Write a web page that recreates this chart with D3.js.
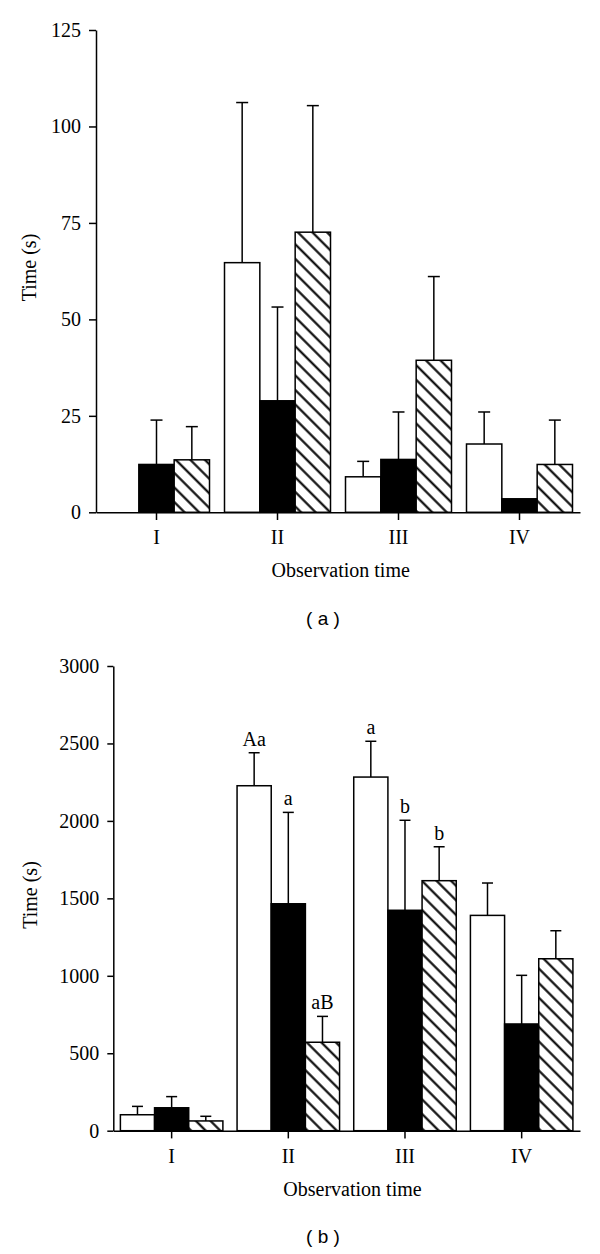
<!DOCTYPE html>
<html><head><meta charset="utf-8">
<script src="https://cdn.jsdelivr.net/npm/d3@7"></script>
<style>body{margin:0;background:#fff}</style>
</head><body><svg id="c" width="600" height="1254" xmlns="http://www.w3.org/2000/svg"></svg>
<script>
// ---------- data ----------
const categories = ["I", "II", "III", "IV"];
const seriesKeys = ["open", "filled", "hatched"];

// panel (a): means and SD (upper error)
const panelA_open = [0, 64.7, 9.2, 17.7];
const panelA_filled = [12.4, 28.9, 13.7, 3.5];
const panelA_hatched = [13.6, 72.6, 39.4, 12.4];
const panelA_openSD = [0, 41.5, 4.0, 8.3];
const panelA_filledSD = [11.5, 24.3, 12.3, 0];
const panelA_hatchedSD = [8.6, 32.8, 21.7, 11.5];
const panelA_ticks = [0, 25, 50, 75, 100, 125];

// panel (b)
const panelB_open = [103, 2227, 2283, 1390];
const panelB_filled = [148, 1465, 1423, 689];
const panelB_hatched = [63, 571, 1614, 1110];
const panelB_openSD = [54, 213, 231, 209];
const panelB_filledSD = [72, 590, 581, 314];
const panelB_hatchedSD = [30, 167, 219, 181];
const panelB_openLetters = ["", "Aa", "a", ""];
const panelB_filledLetters = ["", "a", "b", ""];
const panelB_hatchedLetters = ["", "aB", "b", ""];
const panelB_ticks = [0, 500, 1000, 1500, 2000, 2500, 3000];

const xTitle = "Observation time";
const yTitle = "Time (s)";

// ---------- drawing ----------
const svg = d3.select("#c");
const SERIF = "'Liberation Serif','Times New Roman',serif";
const FS = 20;
const defs = svg.append("defs");
const pat = defs.append("pattern").attr("id", "hatch")
  .attr("patternUnits", "userSpaceOnUse")
  .attr("width", 10.3).attr("height", 10.3)
  .attr("patternTransform", "rotate(45)");
pat.append("rect").attr("width", 10.3).attr("height", 10.3).attr("fill", "#fff");
pat.append("line").attr("x1", -1).attr("x2", 11.3).attr("y1", 5.15).attr("y2", 5.15)
  .attr("stroke", "#000").attr("stroke-width", 2.1);

const fills = {open: "#fff", filled: "#000", hatched: "url(#hatch)"};

function drawPanel(cfg) {
  const g = svg.append("g");
  const x0 = d3.scaleBand().domain(categories).range([cfg.left, cfg.right]).padding(0);
  const gap = (x0.bandwidth() - cfg.groupW) / 2;
  const x1 = d3.scaleBand().domain(seriesKeys).range([gap, x0.bandwidth() - gap]).padding(0);
  const y = d3.scaleLinear().domain([0, cfg.max]).range([cfg.bottom, cfg.top]);

  const rows = [];
  categories.forEach((c, i) => {
    seriesKeys.forEach(k => {
      rows.push({cat: c, key: k, v: cfg.means[k][i], sd: cfg.sds[k][i],
                 lab: cfg.letters ? cfg.letters[k][i] : ""});
    });
  });

  // error bars
  const eb = g.append("g").attr("stroke", "#000").attr("stroke-width", 1.5);
  rows.filter(d => d.sd > 0).forEach(d => {
    const cx = x0(d.cat) + x1(d.key) + x1.bandwidth() / 2;
    eb.append("line").attr("x1", cx).attr("x2", cx).attr("y1", y(d.v)).attr("y2", y(d.v + d.sd));
    eb.append("line").attr("x1", cx - cfg.cap / 2).attr("x2", cx + cfg.cap / 2)
      .attr("y1", y(d.v + d.sd)).attr("y2", y(d.v + d.sd));
  });

  // bars
  g.append("g").selectAll("rect").data(rows.filter(d => d.v > 0)).join("rect")
    .attr("x", d => x0(d.cat) + x1(d.key))
    .attr("width", x1.bandwidth())
    .attr("y", d => y(d.v))
    .attr("height", d => y(0) - y(d.v))
    .attr("fill", d => fills[d.key])
    .attr("stroke", "#000").attr("stroke-width", 1.5);

  // letters
  g.append("g").selectAll("text").data(rows.filter(d => d.lab)).join("text")
    .attr("x", d => x0(d.cat) + x1(d.key) + x1.bandwidth() / 2)
    .attr("y", d => y(d.v + d.sd) - 7)
    .attr("text-anchor", "middle")
    .attr("font-family", SERIF).attr("font-size", FS)
    .text(d => d.lab);

  // axes
  const ya = g.append("g").attr("transform", `translate(${cfg.left},0)`)
    .call(d3.axisLeft(y).tickValues(cfg.ticks).tickFormat(d3.format("d"))
      .tickSize(cfg.ytick).tickPadding(8).tickSizeOuter(0));
  const xa = g.append("g").attr("transform", `translate(0,${cfg.bottom})`)
    .call(d3.axisBottom(x0).tickSize(7.7).tickPadding(10).tickSizeOuter(0));
  [ya, xa].forEach(a => {
    a.attr("font-size", FS).attr("font-family", SERIF);
    a.selectAll("path,line").attr("stroke", "#000").attr("stroke-width", 1.5);
    a.selectAll("text").attr("font-family", SERIF).attr("font-size", FS).attr("fill", "#000");
  });

  // titles
  g.append("text").attr("x", cfg.xTitleX).attr("y", cfg.xTitleY).attr("text-anchor", "middle")
    .attr("font-family", SERIF).attr("font-size", FS).text(xTitle);
  g.append("text").attr("transform", `translate(${cfg.yTitleX},${cfg.yTitleY}) rotate(-90)`)
    .attr("text-anchor", "middle").attr("font-family", SERIF).attr("font-size", FS).text(yTitle);
  g.append("text").attr("x", 323).attr("y", cfg.panelY).attr("text-anchor", "middle")
    .attr("font-family", "'Liberation Sans',Arial,sans-serif").attr("font-size", 19)
    .style("white-space", "pre")
    .text(cfg.panelLabel);
}

drawPanel({
  left: 96, right: 580, top: 30, bottom: 512.3, max: 125, ticks: panelA_ticks,
  groupW: 106, cap: 12, ytick: 7,
  means: {open: panelA_open, filled: panelA_filled, hatched: panelA_hatched},
  sds: {open: panelA_openSD, filled: panelA_filledSD, hatched: panelA_hatchedSD},
  xTitleX: 340.7, xTitleY: 577, yTitleX: 36, yTitleY: 267.5,
  panelY: 625, panelLabel: "( a )"
});
drawPanel({
  left: 113.3, right: 580, top: 666, bottom: 1130.7, max: 3000, ticks: panelB_ticks,
  groupW: 102.5, cap: 11, ytick: 6,
  means: {open: panelB_open, filled: panelB_filled, hatched: panelB_hatched},
  sds: {open: panelB_openSD, filled: panelB_filledSD, hatched: panelB_hatchedSD},
  letters: {open: panelB_openLetters, filled: panelB_filledLetters, hatched: panelB_hatchedLetters},
  xTitleX: 352.5, xTitleY: 1196, yTitleX: 37, yTitleY: 895,
  panelY: 1243, panelLabel: "( b )"
});
</script></body></html>
